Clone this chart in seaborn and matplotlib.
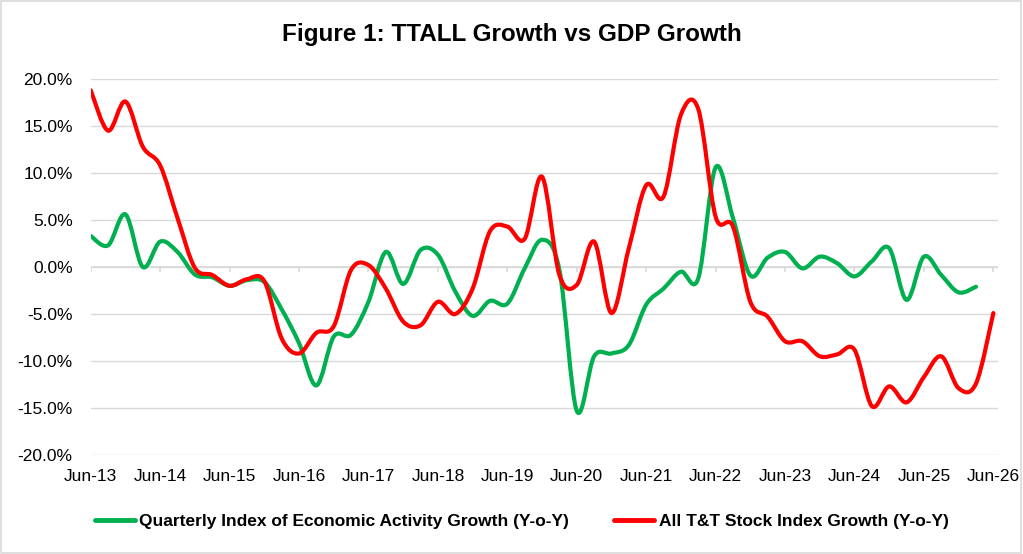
import numpy as np
import pandas as pd
import matplotlib
matplotlib.use("Agg")
import matplotlib.pyplot as plt
import seaborn as sns
from matplotlib.path import Path
from matplotlib.patches import PathPatch, Rectangle
from matplotlib.lines import Line2D

# quarterly readings, Jun-13 onwards (y-o-y growth, %)
gdp_growth = [3.3, 2.3, 5.6, 0.0, 2.7, 1.6, -0.8, -1.1, -2.0, -1.4,
              -1.6, -4.5, -8.1, -12.6, -7.4, -7.2, -3.7, 1.6, -1.8, 1.8,
              1.3, -2.6, -5.2, -3.6, -3.9, -0.15, 2.9, -0.3, -15.3, -9.5,
              -9.2, -8.3, -4.0, -2.3, -0.5, -1.2, 10.6, 5.2, -0.9, 1.0,
              1.6, -0.15, 1.1, 0.4, -1.0, 0.6, 2.0, -3.5, 1.1, -0.85,
              -2.7, -2.1]
ttall_growth = [18.8, 14.5, 17.6, 12.8, 10.8, 5.2, -0.1, -0.85, -2.0, -1.3,
                -1.5, -7.6, -9.2, -7.0, -6.3, -0.3, 0.2, -2.3, -5.8, -6.2,
                -3.7, -5.0, -2.3, 3.8, 4.3, 3.0, 9.6, -0.85, -1.9, 2.7,
                -4.9, 2.0, 8.7, 7.5, 16.2, 16.8, 5.35, 4.3, -3.7, -5.3,
                -7.9, -7.9, -9.5, -9.3, -8.8, -14.8, -12.7, -14.4, -11.7, -9.5,
                -12.9, -12.4, -4.9]
year_labels = ["Jun-13", "Jun-14", "Jun-15", "Jun-16", "Jun-17", "Jun-18", "Jun-19",
               "Jun-20", "Jun-21", "Jun-22", "Jun-23", "Jun-24", "Jun-25", "Jun-26"]
gdp_label = "Quarterly Index of Economic Activity Growth (Y-o-Y)"
ttall_label = "All T&T Stock Index Growth (Y-o-Y)"

GREEN = "#00B050"
RED = "#FF0000"
GRID = "#D9D9D9"

sns.set_theme(style="white")
plt.rcParams["font.family"] = ["Liberation Sans", "DejaVu Sans"]
plt.rcParams["text.color"] = "black"

df = pd.concat([
    pd.DataFrame({"quarter": np.arange(len(gdp_growth)), "growth": gdp_growth, "series": gdp_label}),
    pd.DataFrame({"quarter": np.arange(len(ttall_growth)), "growth": ttall_growth, "series": ttall_label}),
])

fig = plt.figure(figsize=(10.23, 5.54), dpi=100)
ax = fig.add_axes([0.0887, 0.1787, 0.8869, 0.6787])

sns.lineplot(data=df, x="quarter", y="growth", hue="series",
             palette={gdp_label: GREEN, ttall_label: RED}, legend=False, ax=ax)


# excel-style smoothed line: bezier through each point
def smooth_patch(x, y, color):
    pts = np.column_stack([x, y])
    prev = np.vstack([pts[:1], pts[:-1]])
    nxt = np.vstack([pts[1:], pts[-1:]])
    tang = (nxt - prev) / 6.0
    verts = [pts[0]]
    for i in range(len(pts) - 1):
        verts += [pts[i] + tang[i], pts[i + 1] - tang[i + 1], pts[i + 1]]
    codes = [Path.MOVETO] + [Path.CURVE4] * (3 * (len(pts) - 1))
    return PathPatch(Path(verts, codes), fill=False, edgecolor=color, lw=3.0,
                     capstyle="round", joinstyle="round", zorder=3)


for line in list(ax.lines):
    ax.add_patch(smooth_patch(line.get_xdata(), line.get_ydata(), line.get_color()))
    line.set_visible(False)

ax.set_xlim(0, 52.27)
ax.set_ylim(-20, 20)
ax.set_yticks(np.arange(-20, 21, 5))
ax.set_yticklabels([f"{v:.1f}%" for v in np.arange(-20, 21, 5)])
year_pos = np.arange(0, 4 * len(year_labels), 4)
ax.set_xticks(year_pos)
ax.set_xticklabels(year_labels)
ax.tick_params(axis="both", length=0, labelsize=12.5, colors="black")
ax.tick_params(axis="y", pad=13)
ax.tick_params(axis="x", pad=10)
ax.set_xlabel("")
ax.set_ylabel("")
ax.grid(axis="y", color=GRID, lw=1)
ax.grid(axis="x", visible=False)
for s in ax.spines.values():
    s.set_visible(False)

# zero axis line with small tick marks
ax.axhline(0, color=GRID, lw=1.2, zorder=1)
ax.vlines(year_pos, -0.55, 0, color=GRID, lw=1.2, zorder=1)

fig.suptitle("Figure 1: TTALL Growth vs GDP Growth", y=0.937, fontsize=17.5,
             fontweight="bold", va="center", color="black")

handles = [Line2D([], [], color=GREEN, lw=3.5), Line2D([], [], color=RED, lw=3.5)]
fig.legend(handles, [gdp_label, ttall_label], loc="center", bbox_to_anchor=(0.51, 0.059),
           ncol=2, frameon=False, prop={"weight": "bold", "size": 12.5},
           handlelength=2.3, handletextpad=0.25, columnspacing=2.6)

fig.patches.append(Rectangle((0.001, 0.002), 0.997, 0.996, transform=fig.transFigure,
                             fill=False, edgecolor=GRID, lw=1.2))

fig.savefig("out.png", dpi=100)
